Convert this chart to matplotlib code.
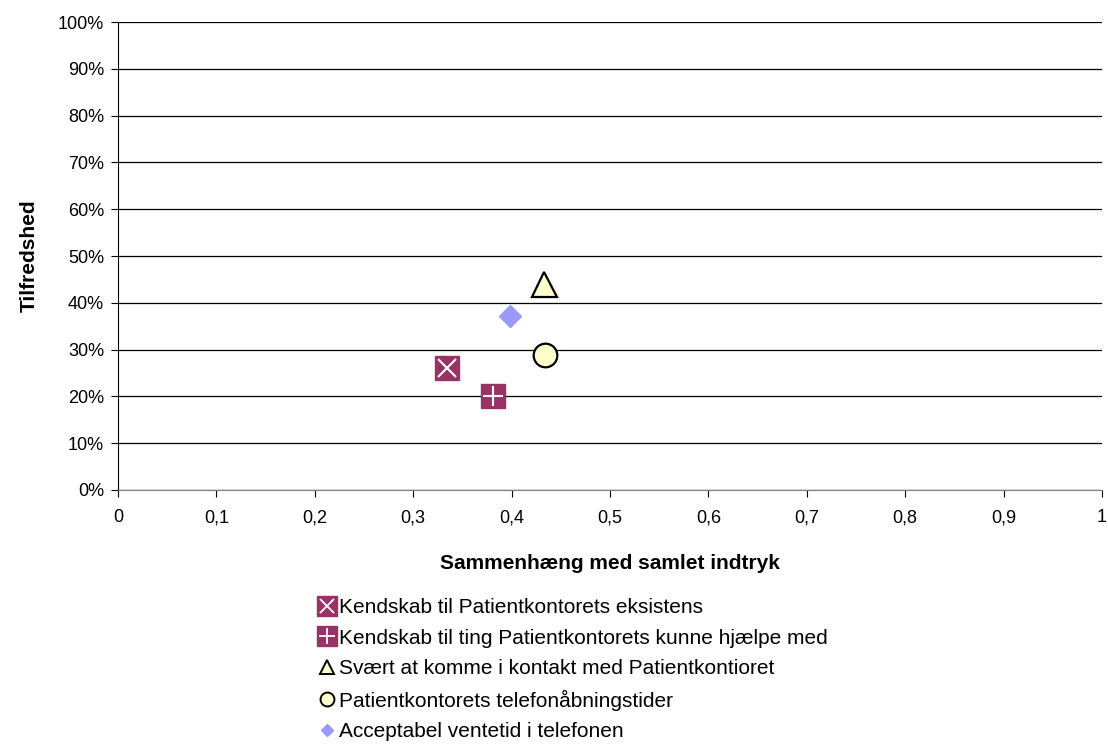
import matplotlib.pyplot as plt
import matplotlib as mpl
from matplotlib.lines import Line2D
from matplotlib.ticker import FuncFormatter, MultipleLocator

mpl.rcParams['font.family'] = ['Liberation Sans', 'DejaVu Sans']
mpl.rcParams['font.size'] = 13

labels = [
    'Kendskab til Patientkontorets eksistens',
    'Kendskab til ting Patientkontorets kunne hjælpe med',
    'Svært at komme i kontakt med Patientkontioret',
    'Patientkontorets telefonåbningstider',
    'Acceptabel ventetid i telefonen',
]
x_vals = [0.334, 0.381, 0.433, 0.434, 0.398]
y_vals = [0.261, 0.200, 0.441, 0.288, 0.372]

PURPLE = '#993366'
CREAM = '#FFFFCC'
LILAC = '#9999FF'

fig = plt.figure(figsize=(11.08, 7.44), dpi=100)
ax = fig.add_axes([0.1065, 0.3414, 0.888, 0.629])

# purple squares with white x / plus inside
ax.plot(x_vals[0], y_vals[0], 's', ms=17, mfc=PURPLE, mec=PURPLE, ls='none', zorder=3)
ax.plot(x_vals[0], y_vals[0], 'x', ms=13, mec='white', mew=1.5, ls='none', zorder=4)
ax.plot(x_vals[1], y_vals[1], 's', ms=17, mfc=PURPLE, mec=PURPLE, ls='none', zorder=3)
ax.plot(x_vals[1], y_vals[1], '+', ms=15, mec='white', mew=1.5, ls='none', zorder=4)
ax.plot(x_vals[2], y_vals[2], '^', ms=18, mfc=CREAM, mec='black', mew=1.6, ls='none', zorder=3)
ax.plot(x_vals[3], y_vals[3], 'o', ms=17, mfc=CREAM, mec='black', mew=1.6, ls='none', zorder=3)
ax.plot(x_vals[4], y_vals[4], 'D', ms=11, mfc=LILAC, mec=LILAC, ls='none', zorder=3)

ax.set_xlim(0, 1)
ax.set_ylim(0, 1)
ax.xaxis.set_major_locator(MultipleLocator(0.1))
ax.yaxis.set_major_locator(MultipleLocator(0.1))

def xfmt(v, p):
    if abs(v) < 1e-9:
        return '0'
    if abs(v - 1) < 1e-9:
        return '1'
    return f'{v:.1f}'.replace('.', ',')

ax.xaxis.set_major_formatter(FuncFormatter(xfmt))
ax.yaxis.set_major_formatter(FuncFormatter(lambda v, p: f'{v*100:.0f}%'))
ax.grid(axis='y', color='black', linewidth=0.9)
ax.set_axisbelow(True)
for s in ['top', 'right']:
    ax.spines[s].set_visible(False)
ax.spines['left'].set_color('black')
ax.spines['bottom'].set_color('#808080')
ax.tick_params(axis='x', direction='out', length=5, color='black', pad=9)
ax.tick_params(axis='y', direction='out', length=5, color='black', pad=5)

ax.set_xlabel('Sammenhæng med samlet indtryk', fontweight='bold', fontsize=15, labelpad=20)
ax.set_ylabel('Tilfredshed', fontweight='bold', fontsize=15, labelpad=14)

leg_handles = [
    (Line2D([], [], marker='s', ms=14, mfc=PURPLE, mec=PURPLE, ls='none'),
     Line2D([], [], marker='x', ms=10, mec='white', mew=1.3, ls='none')),
    (Line2D([], [], marker='s', ms=14, mfc=PURPLE, mec=PURPLE, ls='none'),
     Line2D([], [], marker='+', ms=12, mec='white', mew=1.3, ls='none')),
    Line2D([], [], marker='^', ms=10, mfc=CREAM, mec='black', mew=1.4, ls='none'),
    Line2D([], [], marker='o', ms=10, mfc=CREAM, mec='black', mew=1.4, ls='none'),
    Line2D([], [], marker='D', ms=6, mfc=LILAC, mec=LILAC, ls='none'),
]
fig.legend(leg_handles, labels,
           loc='upper left', bbox_to_anchor=(0.288, 0.196), frameon=False,
           fontsize=15, handlelength=0.8, handletextpad=0.15, labelspacing=0.55,
           borderpad=0, borderaxespad=0)

plt.savefig('out.png', dpi=100)
